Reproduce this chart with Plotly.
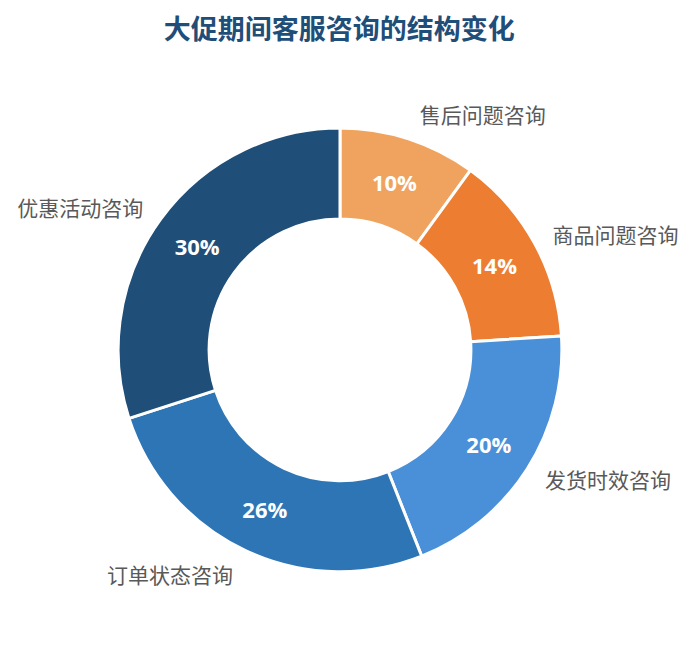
import plotly.graph_objects as go

# 大促期间客服咨询结构
categories = ['售后问题咨询', '商品问题咨询', '发货时效咨询', '订单状态咨询', '优惠活动咨询']
shares = [10, 14, 20, 26, 30]
colors = ['#F0A35E', '#ED7D31', '#4A90D9', '#2E75B6', '#1F4E79']

font_cjk = 'Noto Sans CJK SC, Open Sans, sans-serif'
pie_domain = dict(x=[0.158, 0.796], y=[0.126, 0.814])
# 标签环略大一些，让类别名离开环形一点
label_domain = dict(x=[0.141, 0.813], y=[0.107, 0.833])

fig = go.Figure()

# 环形本体 + 内部百分比
fig.add_trace(go.Pie(
    labels=categories,
    values=shares,
    sort=False,
    direction='clockwise',
    rotation=0,
    hole=0.59,
    marker=dict(colors=colors, line=dict(color='#FFFFFF', width=3)),
    textposition='inside',
    texttemplate='%{percent:.0%}',
    insidetextorientation='horizontal',
    insidetextfont=dict(family='Open Sans, ' + font_cjk, size=22,
                        color='#FFFFFF', weight='bold'),
    domain=pie_domain,
    showlegend=False,
))

# 外部类别标签（透明环）
fig.add_trace(go.Pie(
    labels=categories,
    values=shares,
    sort=False,
    direction='clockwise',
    rotation=0,
    hole=0.59,
    marker=dict(colors=['rgba(0,0,0,0)'] * len(categories),
                line=dict(width=0)),
    textposition='outside',
    texttemplate='%{label}',
    outsidetextfont=dict(family=font_cjk, size=21, color='#595959'),
    domain=label_domain,
    showlegend=False,
    hoverinfo='skip',
))

fig.update_layout(
    width=696,
    height=645,
    paper_bgcolor='#FFFFFF',
    plot_bgcolor='#FFFFFF',
    margin=dict(l=0, r=0, t=0, b=0),
    title=dict(text='<b>大促期间客服咨询的结构变化</b>',
               x=0.476, xanchor='center', y=0.966, yanchor='middle',
               font=dict(family=font_cjk, size=27, color='#1F4E79')),
)

fig.write_html('out.html')
